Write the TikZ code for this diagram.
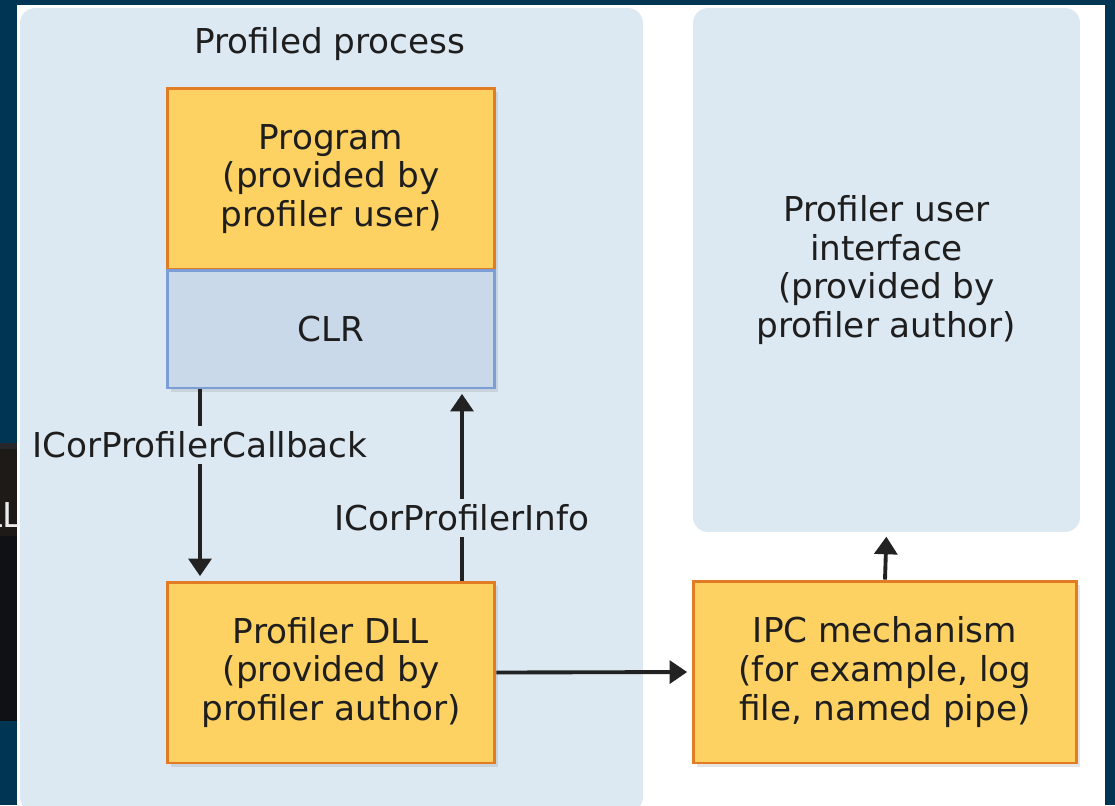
\documentclass[tikz,border=0pt]{standalone}
\usepackage{fontspec}
\setmainfont{DejaVu Sans}
\usetikzlibrary{arrows.meta,shadows}

\definecolor{navy}{RGB}{0,53,84}
\definecolor{panelblue}{RGB}{220,232,242}
\definecolor{boxyellow}{RGB}{253,209,98}
\definecolor{boxorange}{RGB}{226,124,36}
\definecolor{clrfill}{RGB}{201,217,234}
\definecolor{clrline}{RGB}{125,158,212}
\definecolor{textgray}{RGB}{30,30,30}
\definecolor{arrowgray}{RGB}{34,34,34}
\definecolor{artbrown}{RGB}{29,26,24}
\definecolor{artblack}{RGB}{15,17,20}

\begin{document}
\begin{tikzpicture}[x=0.02cm,y=-0.02cm,
    every node/.style={font=\fontsize{19.5}{22}\selectfont,text=textgray,align=center},
    panel/.style={fill=panelblue,rounded corners=0.3cm,inner sep=0pt},
    box/.style={draw=boxorange,fill=boxyellow,line width=1.7pt,inner sep=0pt,
      minimum width=6.56cm,drop shadow={shadow xshift=2pt,shadow yshift=-2pt,opacity=0.2}},
    flow/.style={draw=arrowgray,line width=2.2pt,shorten >=2.5pt,
      -{Triangle[width=13pt,length=10pt]}},
    iface/.style={fill=panelblue,inner sep=3pt}]

    \useasboundingbox (0,0) rectangle (1115,805);

    % Screen around the figure
    \fill[navy] (0,0) rectangle (1115,805);
    \fill[white] (17,5) rectangle (1105,805);
    \fill[artblack!80!gray] (0,443) rectangle (17,449);
    \fill[artbrown] (0,449) rectangle (17,536);
    \fill[artblack] (0,536) rectangle (17,721);
    \begin{scope}
      \clip (0,443) rectangle (17,721);
      \node[anchor=base east,text=white!85!gray,inner sep=0pt] (cut) at (22,527) {DLL};
    \end{scope}

    % Panels
    \node[panel,minimum width=12.46cm,minimum height=16.08cm] (proc) at (331.5,410) {};
    \node (title) at (330,44) {Profiled process};
    \node[panel,minimum width=7.74cm,minimum height=10.48cm] (ui) at (886.5,270)
      {Profiler user\\interface\\(provided by\\profiler author)};

    % Boxes
    \node[box,minimum height=3.64cm] (prog) at (331,179)
      {Program\\(provided by\\profiler user)};
    \node[box,draw=clrline,fill=clrfill,minimum height=2.36cm] (clr) at (331,329) {CLR};
    \node[box,minimum height=3.62cm] (dll) at (331,672.5)
      {Profiler DLL\\(provided by\\profiler author)};
    \node[box,minimum width=7.68cm,minimum height=3.64cm] (ipc) at (885,672)
      {IPC mechanism\\(for example, log\\file, named pipe)};

    % Interface labels
    \coordinate (cbx) at (200,445);
    \coordinate (infox) at (462,518);

    % Connectors
    \draw[flow] (clr.south -| cbx) -- (dll.north -| cbx);
    \draw[flow] (dll.north -| infox) -- (clr.south -| infox);
    \draw[flow] (dll.east) -- (ipc.west);
    \draw[flow] (ipc.north) -- (ui.south);

    \node[iface] (cb) at (cbx) {ICorProfilerCallback};
    \node[iface] (info) at (infox) {ICorProfilerInfo};

\end{tikzpicture}
\end{document}
